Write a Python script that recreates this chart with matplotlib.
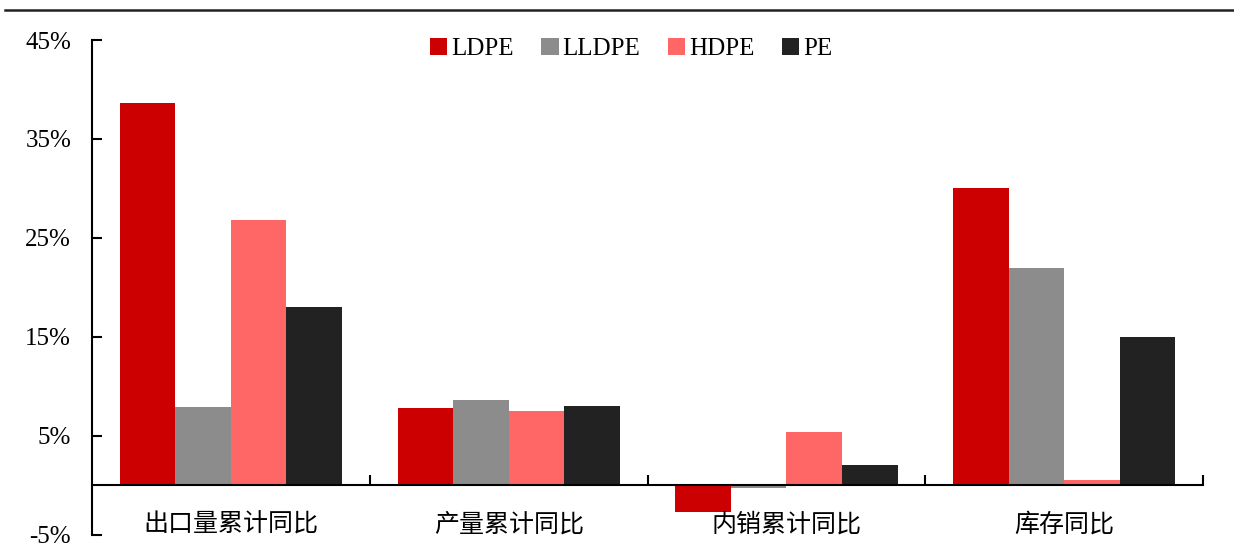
import matplotlib.pyplot as plt
import numpy as np
from matplotlib.lines import Line2D


CATEGORIES = ["出口量累计同比", "产量累计同比", "内销累计同比", "库存同比"]
SERIES = ["LDPE", "LLDPE", "HDPE", "PE"]
LDPE = [38.6, 7.8, -2.7, 30.0]
LLDPE = [7.9, 8.6, -0.3, 22.0]
HDPE = [26.8, 7.5, 5.4, 0.5]
PE = [18.0, 8.0, 2.1, 15.0]
Y_TICKS = [-5, 5, 15, 25, 35, 45]

COLORS = ["#CC0000", "#8C8C8C", "#FF6666", "#222222"]

plt.rcParams["font.family"] = ["Liberation Serif", "Noto Sans CJK SC"]

fig = plt.figure(figsize=(12.34, 5.45), dpi=100)
ax = fig.add_axes([0.0746, 0.0185, 0.9004, 0.9081])

x = np.arange(len(CATEGORIES))
bar_width = 0.2
for i, (name, values) in enumerate(zip(SERIES, [LDPE, LLDPE, HDPE, PE])):
    ax.bar(x + (i - 1.5) * bar_width, values, width=bar_width,
           color=COLORS[i], label=name)

ax.set_xlim(-0.5, len(CATEGORIES) - 0.5)
ax.set_ylim(-5, 45)

ax.set_yticks(Y_TICKS)
ax.set_yticklabels([f"{v}%" for v in Y_TICKS], fontsize=18)
ax.tick_params(axis="y", direction="in", length=7, width=1.5, pad=15)

ax.spines["bottom"].set_position(("data", 0))
ax.spines["top"].set_visible(False)
ax.spines["right"].set_visible(False)
ax.spines["left"].set_linewidth(1.5)
ax.spines["bottom"].set_linewidth(1.5)

ax.set_xticks(x + 0.5)
ax.set_xticklabels([])
ax.tick_params(axis="x", which="major", direction="in", length=7, width=1.5)
ax.set_xticks(x, minor=True)
ax.set_xticklabels(CATEGORIES, minor=True, fontsize=18,
                   family=["Noto Sans CJK SC"])
ax.tick_params(axis="x", which="minor", length=0, pad=19)

ax.legend(loc="upper center", bbox_to_anchor=(0.485, 1.05), ncol=4,
          frameon=False, fontsize=18, handlelength=0.7, handleheight=0.7,
          handletextpad=0.15, columnspacing=1.1)

fig.add_artist(Line2D([0.004, 1.0], [0.982, 0.982], color="#222222",
                      linewidth=1.8, transform=fig.transFigure))

fig.savefig("out.png", dpi=100)
